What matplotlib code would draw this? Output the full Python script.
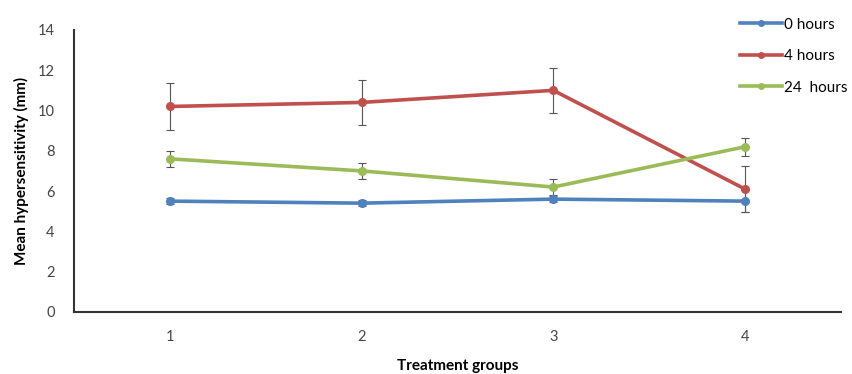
import matplotlib.pyplot as plt
from matplotlib.lines import Line2D
import numpy as np

groups = [1, 2, 3, 4]
series_names = ['0 hours', '4 hours', '24  hours']
h0 = [5.5, 5.4, 5.6, 5.5]
h4 = [10.2, 10.4, 11.0, 6.1]
h24 = [7.6, 7.0, 6.2, 8.2]
h0_err = [0.15, 0.15, 0.15, 0.55]
h4_err = [1.15, 1.1, 1.1, 1.15]
h24_err = [0.4, 0.4, 0.4, 0.45]

colors = ['#4F81BD', '#C0504D', '#9BBB59']

plt.rcParams['font.family'] = ['Lato', 'DejaVu Sans']

fig = plt.figure(figsize=(8.53, 3.74), dpi=100)
ax = fig.add_axes([0.0868, 0.166, 0.899, 0.754])

handles = []
for vals, errs, name, c in zip([h0, h4, h24], [h0_err, h4_err, h24_err], series_names, colors):
    ax.errorbar(groups, vals, yerr=errs, color=c, lw=2.6, marker='o', markersize=5.5,
                ecolor='#555555', elinewidth=0.8, capsize=3, capthick=0.8)
    handles.append(Line2D([], [], color=c, lw=2.6, marker='o', markersize=4, label=name))

ax.set_xlim(0.5, 4.5)
ax.set_ylim(0, 14)
ax.set_xticks(groups)
ax.set_yticks(np.arange(0, 15, 2))
ax.tick_params(length=0, labelsize=10.5, colors='#444444')
ax.tick_params(axis='x', pad=13)
ax.tick_params(axis='y', pad=14)
for s in ['top', 'right']:
    ax.spines[s].set_visible(False)
for s in ['left', 'bottom']:
    ax.spines[s].set_linewidth(1.5)
    ax.spines[s].set_color('#333333')

ax.set_xlabel('Treatment groups', fontsize=11, fontweight='bold', labelpad=10.5)
ax.set_ylabel('Mean hypersensitivity (mm)', fontsize=11, fontweight='bold', labelpad=6)

leg = ax.legend(handles=handles, loc='upper left', bbox_to_anchor=(0.86, 1.065), frameon=False,
                fontsize=11, handlelength=2.8, handletextpad=0.1, labelspacing=1.15,
                borderaxespad=0)

fig.savefig('out.png', dpi=100)
